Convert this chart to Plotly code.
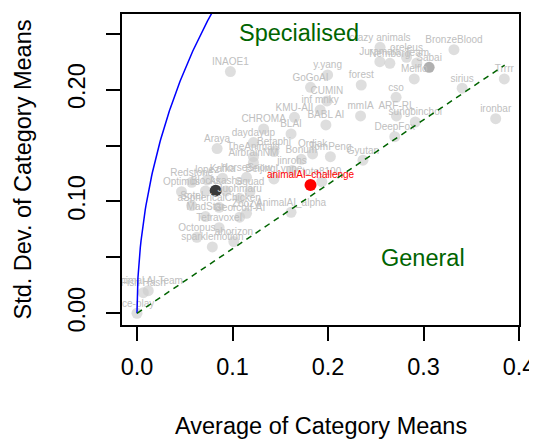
import numpy as np
import plotly.graph_objects as go

# ---- data ----
team_names = [
    "ice-play", "Fish Hash", "Animal AI Team",
    "INAOE1", "y.yang", "GoGoAI", "forest", "crazy animals", "BronzeBlood",
    "Juramaia", "Nemborg", "oreleus", "Team", "Melflo", "sirius", "Trrrr",
    "cso", "CUMIN", "inf mnky", "KMU-AII", "mmIA", "ARF-RL", "sungbinchoi",
    "ironbar", "BABL AI", "CHROMA", "BLAI", "DeepFox", "daydayup", "Araya",
    "TheAnimals", "Betaphi", "Ordiak", "TomPeng", "Bonum", "AirbrainNM",
    "Gyutan", "jinrohs", "Redstone", "lopez", "Kafka", "HorseSnow",
    "BeijingLynne", "tote8100", "Optimus", "Blocks", "Akasha", "Squad",
    "Juohmaru", "Sotel", "aSphericalChicken", "MadStar", "Zoozyl",
    "GeorcoII-AI", "AnimalAI_alpha", "Tetravoxel", "Octopus", "ahorizon",
    "sparklemotion",
]
avg_means = [
    0.0000, 0.0066, 0.0118,
    0.0978, 0.1996, 0.1817, 0.2348, 0.2545, 0.3319,
    0.2543, 0.2648, 0.2822, 0.2930, 0.2903, 0.3405, 0.3846,
    0.2713, 0.1989, 0.1918, 0.1649, 0.2341, 0.2717, 0.2914,
    0.3756, 0.1978, 0.1326, 0.1613, 0.2699, 0.1219, 0.0839,
    0.1219, 0.1434, 0.1839, 0.2025, 0.1720, 0.1219,
    0.2366, 0.1624, 0.0573, 0.0735, 0.0896, 0.1147,
    0.1434, 0.1935, 0.0466, 0.0717, 0.0932, 0.1183,
    0.1075, 0.0573, 0.0860, 0.0717, 0.1147,
    0.1075, 0.1613, 0.0860, 0.0627, 0.1014,
    0.0789,
]
sd_means = [
    0.0000, 0.0184, 0.0202,
    0.2162, 0.2132, 0.2021, 0.2042, 0.2379, 0.2358,
    0.2250, 0.2236, 0.2290, 0.2239, 0.2096, 0.2013, 0.2096,
    0.1932, 0.1899, 0.1819, 0.1753, 0.1765, 0.1765, 0.1711,
    0.1741, 0.1685, 0.1649, 0.1604, 0.1580, 0.1527, 0.1473,
    0.1401, 0.1446, 0.1425, 0.1401, 0.1377, 0.1348,
    0.1369, 0.1276, 0.1172, 0.1193, 0.1208, 0.1216,
    0.1202, 0.1178, 0.1088, 0.1094, 0.1094, 0.1088,
    0.1029, 0.0963, 0.0948, 0.0865, 0.0894,
    0.0859, 0.0903, 0.0766, 0.0680, 0.0641,
    0.0593,
]

# highlighted entries
dark_avg, dark_sd = [0.0824], [0.1097]
mid_avg, mid_sd, mid_name = [0.3059], [0.2200], ["Sabai"]
focus_avg, focus_sd, focus_name = [0.1817], [0.1148], ["animalAI\u2013challenge"]

# reference lines
general_end_avg = [0.0, 0.385]
general_end_sd = [0.0, 0.222]
x_ticks = [0.0, 0.1, 0.2, 0.3, 0.4]
x_tick_text = ["0.0", "0.1", "0.2", "0.3", "0.4"]
y_ticks = [0.0, 0.05, 0.10, 0.15, 0.20, 0.25]
y_tick_text = ["0.00", "", "0.10", "", "0.20", ""]

# max possible std-dev for a given mean: sqrt(m(1-m))
m = np.concatenate([np.linspace(0, 0.002, 40), np.linspace(0.002, 0.09, 120)])
spec_curve = np.sqrt(m * (1 - m))

FONT = "Liberation Sans, Arial, sans-serif"
GRN = "#006400"
LBL = dict(family=FONT, size=10, color="#c0c0c0")

fig = go.Figure()
# points
fig.add_trace(go.Scatter(
    x=avg_means + mid_avg, y=sd_means + mid_sd, mode="markers",
    marker=dict(size=11, color=["rgba(205,205,205,0.65)"] * len(avg_means)
                + ["rgba(150,150,150,0.75)"], line=dict(width=0)),
    hoverinfo="skip", showlegend=False))
fig.add_trace(go.Scatter(
    x=dark_avg, y=dark_sd, mode="markers",
    marker=dict(size=12, color="#3a3a3a"), showlegend=False))
fig.add_trace(go.Scatter(
    x=focus_avg, y=focus_sd, mode="markers",
    marker=dict(size=12, color="red"), showlegend=False))
# labels (drawn above points)
fig.add_trace(go.Scatter(
    x=avg_means + mid_avg, y=sd_means + mid_sd, mode="markers+text",
    text=team_names + mid_name, textposition="top center",
    marker=dict(size=5, opacity=0), textfont=LBL,
    hoverinfo="text", showlegend=False))
fig.add_trace(go.Scatter(
    x=focus_avg, y=focus_sd, mode="markers+text", text=focus_name,
    textposition="top center", marker=dict(size=5, opacity=0),
    textfont=dict(family=FONT, size=10, color="red"), showlegend=False))
# reference lines
fig.add_trace(go.Scatter(
    x=m, y=spec_curve, mode="lines",
    line=dict(color="blue", width=1.5), showlegend=False))
fig.add_trace(go.Scatter(
    x=general_end_avg, y=general_end_sd, mode="lines",
    line=dict(color=GRN, width=1.5, dash="6px,5px"), showlegend=False))

fig.add_annotation(x=0.1693, y=0.2504, text="Specialised", showarrow=False,
                   font=dict(family=FONT, size=23.5, color=GRN))
fig.add_annotation(x=0.2993, y=0.0492, text="General", showarrow=False,
                   font=dict(family=FONT, size=23.5, color=GRN))
fig.add_annotation(xref="paper", yref="paper", x=0.5, y=0, yanchor="middle",
                   yshift=-101, text="Average of Category Means", showarrow=False,
                   font=dict(family=FONT, size=23.5, color="black"))
fig.add_annotation(xref="paper", yref="paper", x=0, y=0.5, xanchor="center",
                   xshift=-100, textangle=-90, text="Std. Dev. of Category Means",
                   showarrow=False, font=dict(family=FONT, size=23.5, color="black"))

axis_common = dict(showgrid=False, zeroline=False, showline=True, mirror=True,
                   linecolor="black", linewidth=1.5, ticks="outside", ticklen=14,
                   tickwidth=1.5, tickcolor="black", automargin=False,
                   tickfont=dict(family=FONT, size=23.5, color="black"))
fig.update_xaxes(range=[-0.0157, 0.4], tickvals=x_ticks, ticktext=x_tick_text,
                 ticklabelstandoff=6, **axis_common)
fig.update_yaxes(range=[-0.0105, 0.2677], tickvals=y_ticks, ticktext=y_tick_text,
                 tickangle=-90, ticklabelstandoff=12, **axis_common)

# the page body adds an 8px margin, so the figure is 8px smaller and margins shifted
fig.update_layout(width=529, height=431, margin=dict(l=114, r=18, t=6, b=114),
                  plot_bgcolor="white", paper_bgcolor="white",
                  font=dict(family=FONT))
fig.write_html("out.html")
